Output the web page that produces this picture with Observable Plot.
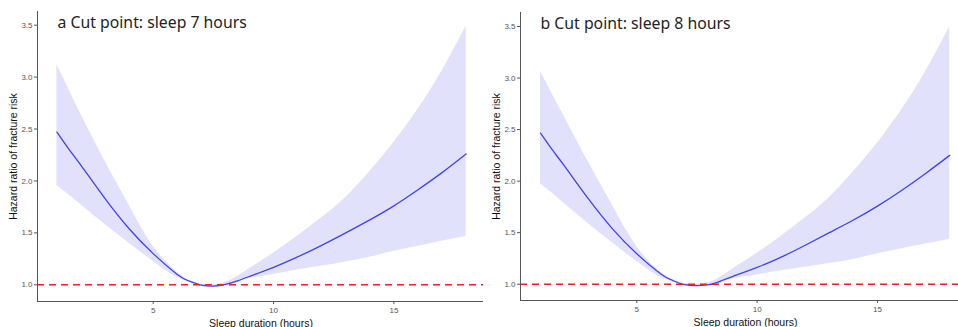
<!DOCTYPE html>
<html>
<head>
<meta charset="utf-8">
<script src="https://cdn.jsdelivr.net/npm/d3@7"></script>
<script src="https://cdn.jsdelivr.net/npm/@observablehq/plot@0.6"></script>
<style>
  html, body { margin: 0; padding: 0; background: #fff; }
  #wrap { position: relative; width: 958px; height: 327px; overflow: hidden; }
  #wrap > div { position: absolute; top: 0; }
  #wrap svg { max-width: none !important; }
  #pa { left: 0; width: 484px; }
  #pb { left: 483px; width: 487px; }
</style>
</head>
<body>
<div id="wrap"><div id="pa"></div><div id="pb"></div></div>
<script>
const hours = [1, 1.5, 2, 3, 4, 5, 6, 6.5, 7, 7.5, 8, 8.5, 9, 10, 11, 12, 13, 14, 15, 16, 17, 18];

// Panel a: cut point 7 hours
const hrA    = [2.47, 2.305, 2.15, 1.83, 1.54, 1.30, 1.10, 1.035, 0.997, 0.987, 1.003, 1.038, 1.08, 1.168, 1.268, 1.38, 1.50, 1.625, 1.76, 1.915, 2.08, 2.26];
const upperA = [3.12, 2.88, 2.64, 2.19, 1.765, 1.37, 1.12, 1.04, 1.008, 1.0, 1.025, 1.08, 1.155, 1.305, 1.47, 1.645, 1.84, 2.09, 2.37, 2.69, 3.06, 3.49];
const lowerA = [1.956, 1.865, 1.77, 1.58, 1.40, 1.225, 1.07, 1.03, 0.985, 0.975, 0.99, 1.02, 1.058, 1.10, 1.143, 1.18, 1.22, 1.265, 1.322, 1.372, 1.42, 1.465];

// Panel b: cut point 8 hours
const hrB    = [2.465, 2.30, 2.145, 1.825, 1.535, 1.295, 1.10, 1.035, 0.995, 0.987, 0.995, 1.033, 1.077, 1.163, 1.263, 1.378, 1.50, 1.623, 1.758, 1.91, 2.075, 2.25];
const upperB = [3.06, 2.84, 2.62, 2.18, 1.76, 1.365, 1.115, 1.04, 1.006, 0.998, 1.015, 1.07, 1.15, 1.30, 1.465, 1.645, 1.84, 2.09, 2.37, 2.69, 3.06, 3.50];
const lowerB = [1.975, 1.88, 1.78, 1.585, 1.40, 1.22, 1.065, 1.025, 0.983, 0.975, 0.985, 1.01, 1.05, 1.09, 1.13, 1.165, 1.20, 1.24, 1.295, 1.345, 1.39, 1.437];

const titles = ["a Cut point: sleep 7 hours", "b Cut point: sleep 8 hours"];
const yTicks = [1.0, 1.5, 2.0, 2.5, 3.0, 3.5];
const xTicks = [5, 10, 15];
const refHR = [1];

function panel(hr, lower, upper, title, opts) {
  const data = hours.map((h, i) => ({h, hr: hr[i], lo: lower[i], up: upper[i]}));
  const xd = opts.xDomain, yd = opts.yDomain;
  return Plot.plot({
    width: opts.width,
    height: 327,
    marginLeft: opts.marginLeft,
    marginRight: 0,
    marginTop: opts.marginTop,
    marginBottom: opts.marginBottom,
    style: {background: "#fff", fontFamily: "Liberation Sans, Arial, sans-serif", maxWidth: "none"},
    x: {domain: xd},
    y: {domain: yd},
    marks: [
      Plot.areaY(data, {x: "h", y1: "lo", y2: "up", fill: "#e1e1fb", curve: "natural"}),
      Plot.line(data, {x: "h", y: "hr", stroke: "#4141f2", strokeWidth: 1.3, curve: "natural"}),
      Plot.ruleY(refHR, {stroke: "#f41c1c", strokeWidth: 1.6, strokeDasharray: "7,5"}),
      Plot.ruleX([xd[0]], {stroke: "#555", strokeWidth: 1}),
      Plot.ruleY([yd[0]], {stroke: "#555", strokeWidth: 1}),
      Plot.axisY(yTicks, {tickFormat: d3.format(".1f"), tickSize: 3, tickPadding: 2, fontSize: 8, color: "#555",
        label: "Hazard ratio of fracture risk", labelAnchor: "center", labelArrow: "none", labelOffset: 28}),
      Plot.axisX(xTicks, {tickSize: 3, tickPadding: 3, fontSize: 8, color: "#555",
        label: "Sleep duration (hours)", labelAnchor: "center", labelArrow: "none", labelOffset: 25}),
      Plot.text([title], {text: d => d, frameAnchor: "top-left", lineAnchor: "bottom", textAnchor: "start",
        dx: 20, dy: 16, fontSize: 15.8, fill: "#222", fontFamily: "Noto Sans, Lato, sans-serif"})
    ]
  });
}

function styleLabels(svg) {
  svg.querySelectorAll("[aria-label='y-axis label'] text, [aria-label='x-axis label'] text").forEach(t => {
    t.setAttribute("font-size", "10.5");
    t.setAttribute("fill", "#111");
  });
  return svg;
}

document.getElementById("pa").appendChild(styleLabels(panel(hrA, lowerA, upperA, titles[0], {
  width: 484, marginLeft: 37, marginTop: 11, marginBottom: 26,
  xDomain: [0.193, 18.764], yDomain: [0.839, 3.632]
})));
document.getElementById("pb").appendChild(styleLabels(panel(hrB, lowerB, upperB, titles[1], {
  width: 487, marginLeft: 37, marginTop: 12, marginBottom: 27,
  xDomain: [0.168, 18.864], yDomain: [0.842, 3.636]
})));
</script>
</body>
</html>
